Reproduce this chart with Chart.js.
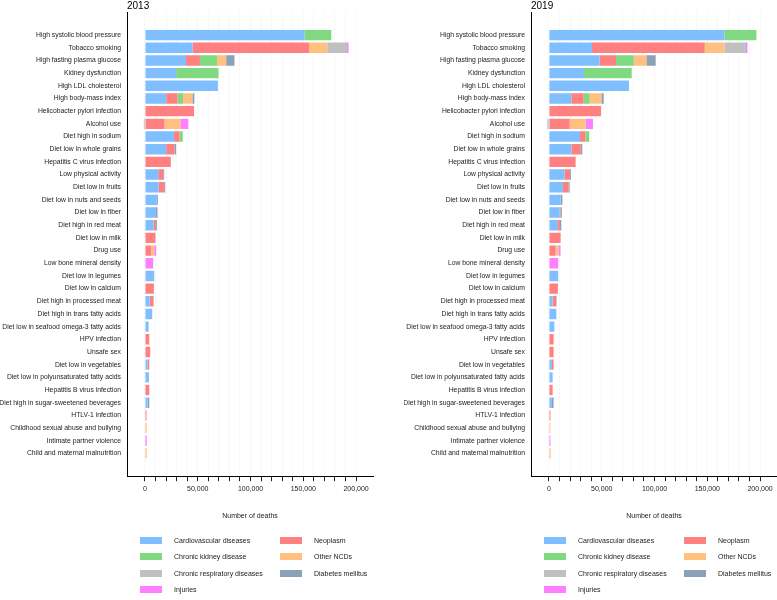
<!DOCTYPE html>
<html>
<head>
<meta charset="utf-8">
<script src="https://cdn.jsdelivr.net/npm/chart.js@4.4.1/dist/chart.umd.min.js"></script>
<style>
  body { margin: 0; background: #fff; font-family: "Liberation Sans", Arial, Helvetica, sans-serif; }
  .panel { position: absolute; top: 0; height: 600px; }
  .legend {
    position: absolute; top: 532px; left: 140px;
    display: grid; grid-template-columns: 140px 140px; grid-auto-rows: 16.5px;
    font-size: 7px; color: #222; will-change: transform;
  }
  .legend div { display: flex; align-items: center; }
  .legend span.box { display: inline-block; width: 22px; height: 7px; margin-right: 12px; }
</style>
</head>
<body>
<div class="panel" style="left:0;width:404px">
  <canvas id="chart2013" width="404" height="524"></canvas>
  <div class="legend" id="legend2013"></div>
</div>
<div class="panel" style="left:404px;width:373px">
  <canvas id="chart2019" width="373" height="524"></canvas>
  <div class="legend" id="legend2019"></div>
</div>
<script>
const riskFactors = [
  "High systolic blood pressure", "Tobacco smoking", "High fasting plasma glucose",
  "Kidney dysfunction", "High LDL cholesterol", "High body-mass index",
  "Helicobacter pylori infection", "Alcohol use", "Diet high in sodium",
  "Diet low in whole grains", "Hepatitis C virus infection", "Low physical activity",
  "Diet low in fruits", "Diet low in nuts and seeds", "Diet low in fiber",
  "Diet high in red meat", "Diet low in milk", "Drug use", "Low bone mineral density",
  "Diet low in legumes", "Diet low in calcium", "Diet high in processed meat",
  "Diet high in trans fatty acids", "Diet low in seafood omega-3 fatty acids",
  "HPV infection", "Unsafe sex", "Diet low in vegetables",
  "Diet low in polyunsaturated fatty acids", "Hepatitis B virus infection",
  "Diet high in sugar-sweetened beverages", "HTLV-1 infection",
  "Childhood sexual abuse and bullying", "Intimate partner violence",
  "Child and maternal malnutrition"
];

const causeNames = [
  "Cardiovascular diseases", "Neoplasm", "Chronic kidney disease", "Other NCDs",
  "Chronic respiratory diseases", "Diabetes mellitus", "Injuries"
];
const causeColors = ["#80bfff", "#ff8080", "#80d880", "#ffc080", "#c0c0c0", "#8ba1b8", "#ff80ff"];

const xTickValues = [0, 10000, 20000, 30000, 40000, 50000, 60000, 70000, 80000, 90000, 100000,
  110000, 120000, 130000, 140000, 150000, 160000, 170000, 180000, 190000, 200000];

// 2013, number of deaths per cause
const cardio2013 = [151300, 45200, 38900, 29500, 69100, 20100, 0, 0, 27600, 20100, 0, 12600, 12900, 11300, 10400, 8200, 0, 0, 0, 8800, 0, 4400, 6900, 3500, 0, 0, 2500, 3800, 0, 2500, 0, 0, 0, 0];
const neo2013 = [0, 110200, 13200, 0, 0, 10700, 46500, 18500, 5100, 7800, 24500, 4700, 5300, 0, 0, 2200, 10000, 6000, 0, 0, 8500, 3400, 0, 0, 4100, 5000, 1600, 0, 4100, 0, 1500, 0, 0, 0];
const ckd2013 = [25200, 0, 16300, 40200, 0, 5300, 0, 0, 3100, 0, 0, 0, 0, 0, 0, 0, 0, 0, 0, 0, 0, 0, 0, 0, 0, 0, 0, 0, 0, 0, 0, 0, 0, 0];
const otherNcd2013 = [0, 17300, 8500, 0, 0, 8800, 0, 15100, 0, 0, 0, 0, 0, 0, 0, 0, 0, 2800, 0, 0, 0, 0, 0, 0, 0, 0, 0, 0, 0, 0, 0, 1700, 0, 1700];
const resp2013 = [0, 18000, 0, 0, 0, 0, 0, 0, 0, 0, 0, 0, 0, 0, 0, 0, 0, 0, 0, 0, 0, 0, 0, 0, 0, 0, 0, 0, 0, 0, 0, 0, 0, 0];
const diab2013 = [0, 600, 7900, 0, 0, 1900, 0, -1000, 0, 1600, 0, 900, 1000, 900, 1500, 900, 0, 0, 0, 0, 0, 400, 0, 0, 0, 0, 0, 0, 0, 1600, 0, 0, 0, 0];
const injury2013 = [0, 1500, 0, 0, 0, 0, 0, 7500, 0, 0, 0, 0, 0, 0, 0, 0, 0, 1900, 7800, 0, 0, 0, 0, 0, 0, 0, 0, 0, 0, 0, 0, 0, 1700, 0];

// 2019
const cardio2019 = [166200, 40800, 48000, 33200, 75800, 21200, 0, 0, 29400, 21200, 0, 14800, 13300, 11100, 10100, 8500, 0, 0, 0, 8800, 0, 3500, 7000, 5100, 0, 0, 2800, 3500, 0, 2800, 0, 0, 0, 0];
const neo2019 = [0, 106800, 15500, 0, 0, 11700, 49300, 19600, 5000, 8800, 25300, 5100, 5400, 0, 800, 1900, 11100, 6300, 0, 0, 8500, 3500, 0, 0, 4400, 4400, 1600, 0, 3500, 0, 1400, 0, 0, 0];
const ckd2019 = [30300, 0, 16800, 45200, 0, 5700, 0, 0, 3800, 0, 0, 0, 0, 0, 0, 0, 0, 0, 0, 0, 0, 0, 0, 0, 0, 0, 0, 0, 0, 0, 0, 0, 0, 0];
const otherNcd2019 = [0, 18600, 12000, 0, 0, 11100, 0, 15200, 0, 0, 0, 0, 0, 0, 0, 0, 0, 2800, 0, 0, 0, 0, 0, 0, 0, 0, 0, 0, 0, 0, 0, 1400, 0, 1600];
const resp2019 = [0, 19400, 0, 0, 0, 0, 0, 0, 0, 0, 0, 0, 0, 0, 0, 0, 0, 0, 0, 0, 0, 0, 0, 0, 0, 0, 0, 0, 0, 0, 0, 0, 0, 0];
const diab2019 = [0, 600, 8800, 0, 0, 2200, 0, -1300, 0, 1600, 0, 900, 900, 1600, 1300, 1300, 0, 0, 0, 0, 0, 300, 0, 0, 0, 0, 0, 0, 0, 1600, 0, 0, 0, 0];
const injury2019 = [0, 1800, 0, 0, 0, 0, 0, 6900, 0, 0, 0, 0, 0, 0, 0, 0, 0, 1900, 8800, 0, 0, 0, 0, 0, 0, 0, 0, 0, 0, 0, 0, 0, 1400, 0];

Chart.defaults.font.family = '"Liberation Sans", Arial, Helvetica, sans-serif';
Chart.defaults.color = "#222";

function makeChart(id, year, series, padRight) {
  const datasets = series.map((vals, k) => ({
    label: causeNames[k],
    data: vals.map((v, i) => ({ x: v, y: i })),
    backgroundColor: causeColors[k],
    borderWidth: 0,
    barPercentage: 0.82,
    categoryPercentage: 1
  }));

  return new Chart(document.getElementById(id), {
    type: "bar",
    data: { datasets },
    options: {
      responsive: false,
      animation: false,
      indexAxis: "y",
      layout: { padding: { top: 0, right: padRight, bottom: 0, left: 0 } },
      plugins: {
        legend: { display: false },
        tooltip: { enabled: false },
        title: {
          display: true,
          text: year,
          align: "start",
          fullSize: false,
          color: "#000",
          font: { size: 10, lineHeight: 0.9, weight: "normal" },
          padding: { top: 1.5, bottom: 1.8 }
        }
      },
      scales: {
        x: {
          type: "linear",
          stacked: true,
          min: -17000,
          max: 216000,
          afterBuildTicks: s => { s.ticks = xTickValues.map(v => ({ value: v })); },
          ticks: {
            autoSkip: false,
            maxRotation: 0,
            padding: 4,
            font: { size: 7 },
            color: "#222",
            callback: v => (v % 50000 === 0 ? v.toLocaleString("en-US") : "")
          },
          grid: { color: "#f0f0f0", tickColor: "#222", tickLength: 5 },
          border: { color: "#000", width: 1, dash: [2, 2] },
          title: {
            display: true,
            text: "Number of deaths",
            font: { size: 7 },
            color: "#222",
            padding: { top: 14, bottom: 4 }
          }
        },
        y: {
          type: "linear",
          stacked: true,
          reverse: true,
          offset: false,
          min: -1.8,
          max: 34.8,
          afterBuildTicks: s => { s.ticks = riskFactors.map((r, i) => ({ value: i })); },
          afterFit: s => { s.width = 127; s.paddingTop = 0; s.paddingBottom = 0; },
          ticks: {
            autoSkip: false,
            padding: 6,
            font: { size: 6.8 },
            color: "#222",
            callback: v => riskFactors[v]
          },
          grid: { display: false, drawTicks: false, offset: false },
          border: { color: "#000", width: 1 }
        }
      }
    }
  });
}

function makeLegend(id) {
  const el = document.getElementById(id);
  causeNames.forEach((name, k) => {
    const item = document.createElement("div");
    item.innerHTML = '<span class="box" style="background:' + causeColors[k] + '"></span>' + name;
    el.appendChild(item);
  });
}

makeChart("chart2013", "2013",
  [cardio2013, neo2013, ckd2013, otherNcd2013, resp2013, diab2013, injury2013], 31);
makeChart("chart2019", "2019",
  [cardio2019, neo2019, ckd2019, otherNcd2019, resp2019, diab2019, injury2019], 0);
makeLegend("legend2013");
makeLegend("legend2019");
</script>
</body>
</html>
